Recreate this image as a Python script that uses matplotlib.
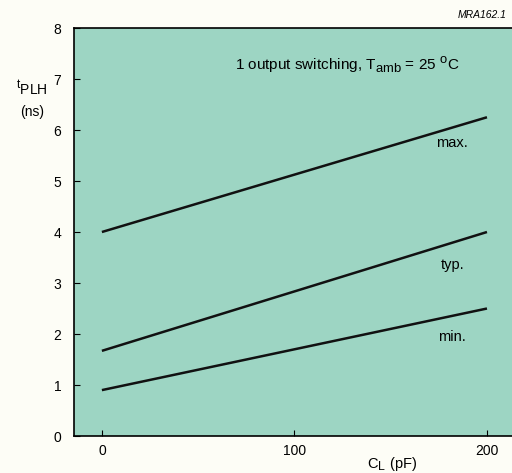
import matplotlib
matplotlib.use("Agg")
import matplotlib.pyplot as plt
import matplotlib._mathtext as mt

plt.rcParams['font.family'] = ['Liberation Sans', 'DejaVu Sans']
plt.rcParams['mathtext.fontset'] = 'custom'
plt.rcParams['mathtext.rm'] = 'Liberation Sans'
mt.SHRINK_FACTOR = 0.85  # subscripts in the original are nearly full size

# load capacitance (pF) and propagation delay (ns)
cl = [0, 200]
t_max = [4.0, 6.25]
t_typ = [1.67, 4.0]
t_min = [0.9, 2.5]
curve_labels = ['max.', 'typ.', 'min.']
xticks = [0, 100, 200]
yticks = [0, 1, 2, 3, 4, 5, 6, 7, 8]

teal = '#9dd5c3'

fig = plt.figure(figsize=(5.12, 4.73), dpi=100, facecolor='#fdfdf6')
ax = fig.add_axes([0.1445, 0.0782, 0.8555, 0.8626])
ax.set_facecolor(teal)

for yv in [t_max, t_typ, t_min]:
    ax.plot(cl, yv, color='#111111', lw=1.8, solid_capstyle='butt')

ax.set_xlim(-14.5, 213)
ax.set_ylim(0, 8)
ax.set_xticks(xticks)
ax.set_yticks(yticks)
ax.tick_params(direction='in', length=4, width=0.8, labelsize=10, pad=6)
ax.tick_params(axis='y', pad=9)
for sp in ['left', 'bottom', 'top']:
    ax.spines[sp].set_linewidth(1.2)
ax.spines['right'].set_visible(False)

# curve names
ax.text(182, 5.75, curve_labels[0], fontsize=10.5, ha='center', va='center')
ax.text(182, 3.35, curve_labels[1], fontsize=10.5, ha='center', va='center')
ax.text(182, 1.94, curve_labels[2], fontsize=10.5, ha='center', va='center')

ax.text(69, 7.28, r'1 output switching, T$_{\mathregular{amb}}$ = 25 $^{\mathregular{o}}$C',
        fontsize=11, ha='left', va='center')

fig.text(0.062, 0.812, r'$^{\mathregular{t}}$PLH', fontsize=10, ha='center', va='center')
fig.text(0.062, 0.763, '(ns)', fontsize=10, ha='center', va='center')
fig.text(0.765, 0.02, r'C$_{\mathregular{L}}$ (pF)', fontsize=10.5, ha='center', va='center')
fig.text(0.99, 0.968, 'MRA162.1', fontsize=7.5, style='italic', ha='right', va='center')

fig.savefig('out.png', dpi=100, facecolor=fig.get_facecolor())
